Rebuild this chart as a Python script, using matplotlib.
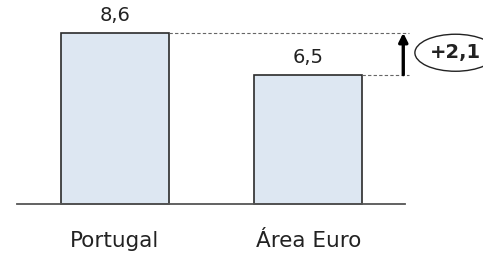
import matplotlib.pyplot as plt
from matplotlib.patches import Ellipse

# Data
categories = ['Portugal', 'Área Euro']
values = [8.6, 6.5]
value_labels = ['8,6', '6,5']
diff_label = '+2,1'

fig = plt.figure(figsize=(4.83, 2.54), dpi=100)
ax = fig.add_axes([0, 0, 1, 1])

x = [0, 1]
bar_w = 0.558
ax.bar(x, values, width=bar_w, color='#dde7f2', edgecolor='#2b2b2b', linewidth=1.2, zorder=2)

# value labels above bars
for xi, v, lab in zip(x, values, value_labels):
    ax.text(xi, v + 0.4, lab, ha='center', va='bottom', fontsize=14, color='#222222')

# category labels under the baseline
for xi, c in zip(x, categories):
    ax.text(xi, -1.85, c, ha='center', va='center', fontsize=15.5, color='#222222')

# baseline
ax.plot([-0.505, 1.498], [0, 0], color='#555555', linewidth=1.3, zorder=3)

# dashed reference lines and arrow
x_arrow = 1.49
ax.plot([bar_w / 2, 1.52], [values[0], values[0]], color='#666666', linestyle=(0, (3, 2)), linewidth=0.8)
ax.plot([1 + bar_w / 2, 1.52], [values[1], values[1]], color='#666666', linestyle=(0, (3, 2)), linewidth=0.8)
ax.annotate('', xy=(x_arrow, values[0]), xytext=(x_arrow, values[1]),
            arrowprops=dict(arrowstyle='-|>', color='black', lw=2.4, mutation_scale=13,
                            shrinkA=0, shrinkB=0))

# difference label in ellipse
mid = (values[0] + values[1]) / 2 + 0.05
ax.add_patch(Ellipse((1.76, mid), 0.42, 1.86,
                     facecolor='white', edgecolor='#222222', linewidth=1.0, clip_on=False))
ax.text(1.758, mid, diff_label, ha='center', va='center',
        fontsize=14, fontweight='bold', color='#222222')

ax.set_xlim(-0.594, 1.902)
ax.set_ylim(-2.51, 10.25)
ax.axis('off')

fig.savefig('out.png', dpi=100)
